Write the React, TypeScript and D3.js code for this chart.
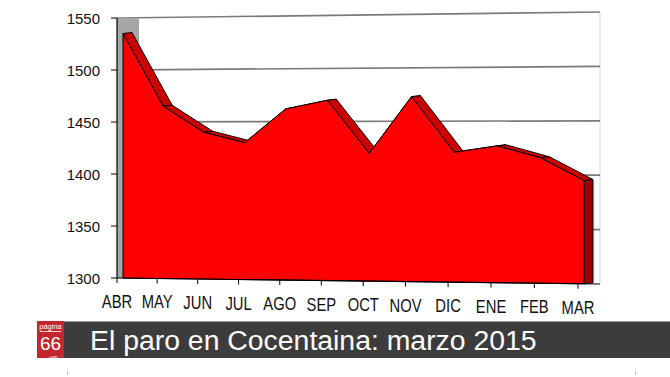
import React from "react";
import * as d3 from "d3";

const months = ["ABR", "MAY", "JUN", "JUL", "AGO", "SEP", "OCT", "NOV", "DIC", "ENE", "FEB", "MAR"];
const paro = [1535, 1465, 1440, 1430, 1462, 1470, 1420, 1473, 1421, 1427, 1416, 1395];
const yTicks = [1300, 1350, 1400, 1450, 1500, 1550];
const title = "El paro en Cocentaina: marzo 2015";

const FONT = "'Liberation Sans', Arial, sans-serif";

export default function App() {
  const W = 670, H = 377;
  const n = months.length;
  const vScale = d3.scaleLinear().domain([1300, 1550]).range([0, 1]);
  const idx = d3.scaleLinear().domain([0, n - 1]).range([0, 1]);
  const axisX0 = 117, axisX1 = 600, axisSpan = 461, k = 0.0456;
  const tickX = (i: number) => {
    const u = idx(i);
    return axisX0 + axisSpan * ((1 - k) * u + k * u * u);
  };
  const persp = d3.scaleLinear().domain([axisX0, axisX1]).range([0, 1]);
  const bottomAt = (x: number) => d3.interpolateNumber(278, 284)(persp(x));
  const topAt = (x: number) => d3.interpolateNumber(18, 12)(persp(x));
  const project = (v: number, x: number) => bottomAt(x) - vScale(v) * (bottomAt(x) - topAt(x));
  const dx = 9, dy = -1, frontOff = 6, wallX = 139;

  const front: [number, number][] = paro.map((v, i) => {
    const x = tickX(i) + frontOff;
    return [x, project(v, x)];
  });
  const back: [number, number][] = front.map(([x, y]) => [x + dx, y + dy]);
  const line = d3.line();
  const last = front[n - 1];
  const first = front[0];
  const frontPath =
    line([...front, [last[0], bottomAt(last[0])], [first[0], bottomAt(first[0])]]) + "Z";

  const topFaces = front.slice(0, -1).map((p, i) =>
    line([p, front[i + 1], back[i + 1], back[i]]) + "Z"
  );
  const endFace =
    line([
      last,
      back[n - 1],
      [back[n - 1][0], bottomAt(last[0]) + dy],
      [last[0], bottomAt(last[0])],
    ]) + "Z";

  const wallPath =
    line([
      [axisX0, project(1550, axisX0)],
      [wallX, project(1550, wallX)],
      [wallX, bottomAt(wallX)],
      [axisX0, bottomAt(axisX0)],
    ]) + "Z";

  return (
    <svg width={W} height={H} style={{ position: "absolute", left: 0, top: 0, background: "#fff" }}>
      <rect x={0} y={0} width={W} height={H} fill="#fff" />
      {/* back wall right edge */}
      <line x1={axisX1} y1={project(1550, axisX1)} x2={axisX1} y2={bottomAt(axisX1)} stroke="#d9d9d9" strokeWidth={1} />
      {/* gridlines */}
      {yTicks.filter((v) => v !== 1300).map((v) => {
        const x0 = v === 1550 ? axisX0 : wallX;
        return (
          <line key={v} x1={x0} y1={project(v, x0)} x2={axisX1} y2={project(v, axisX1)} stroke="#7a7a7a" strokeWidth={1.7} />
        );
      })}
      {/* side wall */}
      <path d={wallPath} fill="#a6a6a6" />
      {/* top faces */}
      {topFaces.map((d, i) => (
        <path key={i} d={d} fill="#cc0000" stroke="#000" strokeWidth={1} strokeLinejoin="round" />
      ))}
      <path d={endFace} fill="#a00000" stroke="#000" strokeWidth={1} strokeLinejoin="round" />
      <path d={frontPath} fill="#ff0000" stroke="#000" strokeWidth={1} strokeLinejoin="round" />
      {/* y axis */}
      <line x1={axisX0} y1={project(1550, axisX0)} x2={axisX0} y2={bottomAt(axisX0)} stroke="#000" strokeWidth={1.2} />
      {yTicks.map((v) => (
        <g key={v}>
          <line x1={axisX0 - 6} x2={axisX0} y1={project(v, axisX0)} y2={project(v, axisX0)} stroke="#000" strokeWidth={1} />
          <text x={100} y={project(v, axisX0) + 5.5} textAnchor="end" fontFamily={FONT} fontSize={15} fill="#111">
            {v}
          </text>
        </g>
      ))}
      {/* x axis */}
      <line x1={axisX0} y1={bottomAt(axisX0)} x2={axisX1} y2={bottomAt(axisX1)} stroke="#000" strokeWidth={1.2} />
      {months.map((m, i) => {
        const x = tickX(i);
        const b = bottomAt(x);
        return (
          <g key={m}>
            <line x1={x} x2={x} y1={b} y2={b + 5} stroke="#000" strokeWidth={1} />
            <text
              transform={`translate(${x},${b + 30}) scale(1,1.2)`}
              textAnchor="middle"
              fontFamily={FONT}
              fontSize={14.8}
              fill="#111"
            >
              {m}
            </text>
          </g>
        );
      })}
      {/* title bar */}
      <rect x={37} y={321} width={W - 37} height={37} fill="#3c3c3c" />
      <line x1={37} x2={W} y1={321.5} y2={321.5} stroke="#9a9a9a" strokeWidth={1} />
      <rect x={37} y={321} width={27} height={37} fill="#c4262e" />
      <text x={50.5} y={329} textAnchor="middle" fontFamily={FONT} fontSize={7.5} fill="#fff">página</text>
      <line x1={40} x2={61} y1={331.5} y2={331.5} stroke="#fff" strokeWidth={0.8} />
      <text x={50.5} y={350} textAnchor="middle" fontFamily={FONT} fontSize={19} fill="#fff">66</text>
      <text x={53} y={357.5} textAnchor="middle" fontFamily={FONT} fontSize={4} fill="#fff">.com</text>
      <text x={90} y={350} fontFamily={FONT} fontSize={28.4} fill="#fff">{title}</text>
      {/* small marks below */}
      <line x1={67.5} x2={67.5} y1={371} y2={375} stroke="#bbb" strokeWidth={1} />
      <line x1={635.5} x2={635.5} y1={371} y2={375} stroke="#bbb" strokeWidth={1} />
    </svg>
  );
}
